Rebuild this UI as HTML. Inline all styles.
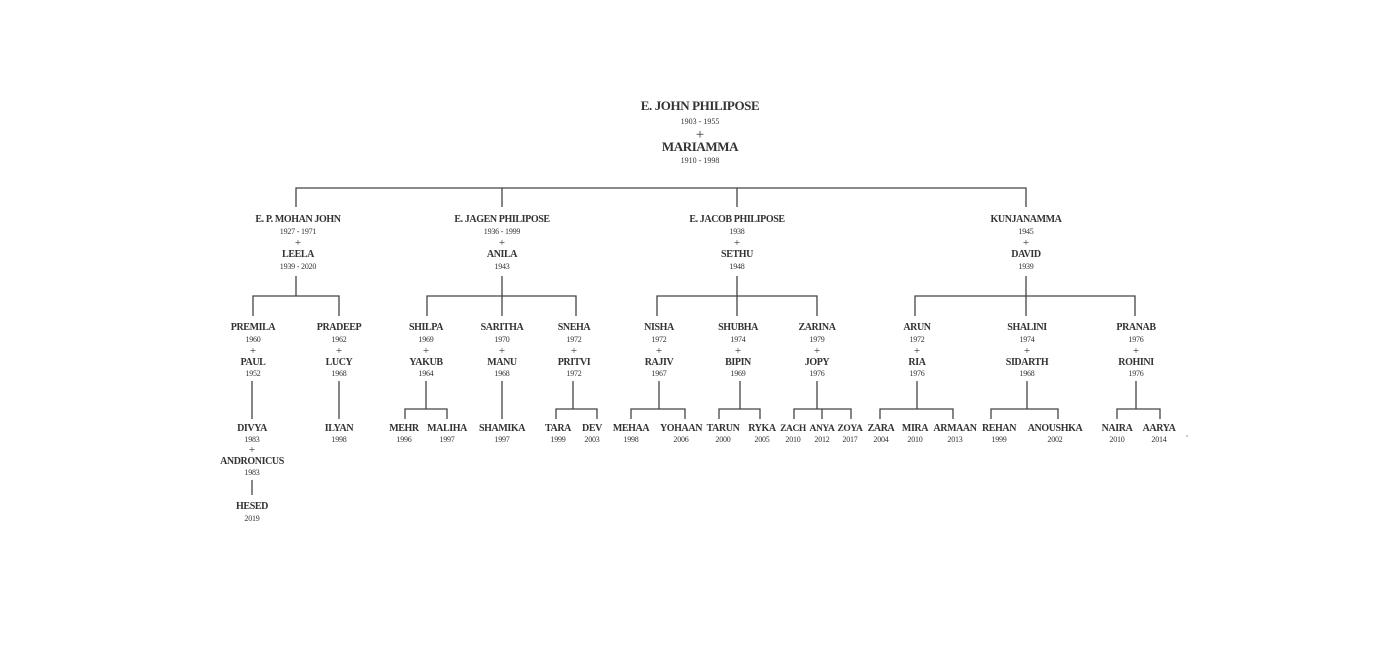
<!DOCTYPE html>
<html><head><meta charset="utf-8"><style>
html,body{margin:0;padding:0;background:#fff;}
svg text{font-family:"Liberation Serif","DejaVu Serif",serif;fill:#333;text-anchor:middle;}
.n{font-size:10px;font-weight:bold;letter-spacing:-0.4px;}
.y{font-size:8px;letter-spacing:-0.2px;}
.p{font-size:11px;}
.t{font-size:13px;font-weight:bold;letter-spacing:-0.4px;}
.ty{font-size:8px;}
</style></head><body>
<svg width="1400" height="652" viewBox="0 0 1400 652" xmlns="http://www.w3.org/2000/svg">
<g stroke="#444" stroke-width="1.3" fill="none">
<path d="M296 207V188H1026V207M502 188V207M737 188V207"/>
<path d="M296 276V296M253 316V296H339V316"/>
<path d="M502 276V316M427 316V296H576V316"/>
<path d="M737 276V316M657 316V296H817V316"/>
<path d="M1026 276V316M915 316V296H1135V316"/>
<path d="M252 381V419M339 381V419"/>
<path d="M426 381V409M405 419V409H447V419"/>
<path d="M502 381V419"/>
<path d="M573 381V409M556 419V409H597V419"/>
<path d="M659 381V409M631 419V409H685V419"/>
<path d="M740 381V409M719 419V409H760V419"/>
<path d="M817 381V409M794 419V409H851V419M822 409V419"/>
<path d="M917 381V409M880 419V409H953V419"/>
<path d="M1027 381V409M991 419V409H1058V419"/>
<path d="M1136 381V409M1117 419V409H1160V419"/>
<path d="M252 480V495"/>
<path d="M1187 435V437" stroke="#999" stroke-width="1"/>
</g>
<text class="t" x="700" y="110">E. JOHN PHILIPOSE</text>
<text class="ty" x="700" y="124">1903 - 1955</text>
<text x="700" y="139" style="font-size:15px">+</text>
<text class="t" x="700" y="151">MARIAMMA</text>
<text class="ty" x="700" y="163">1910 - 1998</text>

<g>
<text class="n" x="298" y="222">E. P. MOHAN JOHN</text><text class="y" x="298" y="234">1927 - 1971</text><text class="p" x="298" y="246">+</text><text class="n" x="298" y="257">LEELA</text><text class="y" x="298" y="269">1939 - 2020</text>
<text class="n" x="502" y="222">E. JAGEN PHILIPOSE</text><text class="y" x="502" y="234">1936 - 1999</text><text class="p" x="502" y="246">+</text><text class="n" x="502" y="257">ANILA</text><text class="y" x="502" y="269">1943</text>
<text class="n" x="737" y="222">E. JACOB PHILIPOSE</text><text class="y" x="737" y="234">1938</text><text class="p" x="737" y="246">+</text><text class="n" x="737" y="257">SETHU</text><text class="y" x="737" y="269">1948</text>
<text class="n" x="1026" y="222">KUNJANAMMA</text><text class="y" x="1026" y="234">1945</text><text class="p" x="1026" y="246">+</text><text class="n" x="1026" y="257">DAVID</text><text class="y" x="1026" y="269">1939</text>
</g>

<g>
<text class="n" x="253" y="330">PREMILA</text><text class="y" x="253" y="342">1960</text><text class="p" x="253" y="354">+</text><text class="n" x="253" y="365">PAUL</text><text class="y" x="253" y="376">1952</text>
<text class="n" x="339" y="330">PRADEEP</text><text class="y" x="339" y="342">1962</text><text class="p" x="339" y="354">+</text><text class="n" x="339" y="365">LUCY</text><text class="y" x="339" y="376">1968</text>
<text class="n" x="426" y="330">SHILPA</text><text class="y" x="426" y="342">1969</text><text class="p" x="426" y="354">+</text><text class="n" x="426" y="365">YAKUB</text><text class="y" x="426" y="376">1964</text>
<text class="n" x="502" y="330">SARITHA</text><text class="y" x="502" y="342">1970</text><text class="p" x="502" y="354">+</text><text class="n" x="502" y="365">MANU</text><text class="y" x="502" y="376">1968</text>
<text class="n" x="574" y="330">SNEHA</text><text class="y" x="574" y="342">1972</text><text class="p" x="574" y="354">+</text><text class="n" x="574" y="365">PRITVI</text><text class="y" x="574" y="376">1972</text>
<text class="n" x="659" y="330">NISHA</text><text class="y" x="659" y="342">1972</text><text class="p" x="659" y="354">+</text><text class="n" x="659" y="365">RAJIV</text><text class="y" x="659" y="376">1967</text>
<text class="n" x="738" y="330">SHUBHA</text><text class="y" x="738" y="342">1974</text><text class="p" x="738" y="354">+</text><text class="n" x="738" y="365">BIPIN</text><text class="y" x="738" y="376">1969</text>
<text class="n" x="817" y="330">ZARINA</text><text class="y" x="817" y="342">1979</text><text class="p" x="817" y="354">+</text><text class="n" x="817" y="365">JOPY</text><text class="y" x="817" y="376">1976</text>
<text class="n" x="917" y="330">ARUN</text><text class="y" x="917" y="342">1972</text><text class="p" x="917" y="354">+</text><text class="n" x="917" y="365">RIA</text><text class="y" x="917" y="376">1976</text>
<text class="n" x="1027" y="330">SHALINI</text><text class="y" x="1027" y="342">1974</text><text class="p" x="1027" y="354">+</text><text class="n" x="1027" y="365">SIDARTH</text><text class="y" x="1027" y="376">1968</text>
<text class="n" x="1136" y="330">PRANAB</text><text class="y" x="1136" y="342">1976</text><text class="p" x="1136" y="354">+</text><text class="n" x="1136" y="365">ROHINI</text><text class="y" x="1136" y="376">1976</text>
</g>

<g>
<text class="n" x="252" y="431">DIVYA</text><text class="y" x="252" y="442">1983</text><text class="p" x="252" y="453">+</text><text class="n" x="252" y="464">ANDRONICUS</text><text class="y" x="252" y="475">1983</text>
<text class="n" x="252" y="509">HESED</text><text class="y" x="252" y="521">2019</text>
<text class="n" x="339" y="431">ILYAN</text><text class="y" x="339" y="442">1998</text>
<text class="n" x="404" y="431">MEHR</text><text class="y" x="404" y="442">1996</text>
<text class="n" x="447" y="431">MALIHA</text><text class="y" x="447" y="442">1997</text>
<text class="n" x="502" y="431">SHAMIKA</text><text class="y" x="502" y="442">1997</text>
<text class="n" x="558" y="431">TARA</text><text class="y" x="558" y="442">1999</text>
<text class="n" x="592" y="431">DEV</text><text class="y" x="592" y="442">2003</text>
<text class="n" x="631" y="431">MEHAA</text><text class="y" x="631" y="442">1998</text>
<text class="n" x="681" y="431">YOHAAN</text><text class="y" x="681" y="442">2006</text>
<text class="n" x="723" y="431">TARUN</text><text class="y" x="723" y="442">2000</text>
<text class="n" x="762" y="431">RYKA</text><text class="y" x="762" y="442">2005</text>
<text class="n" x="793" y="431" style="font-size:9.5px">ZACH</text><text class="y" x="793" y="442">2010</text>
<text class="n" x="822" y="431" style="font-size:9.5px">ANYA</text><text class="y" x="822" y="442">2012</text>
<text class="n" x="850" y="431" style="font-size:9.5px">ZOYA</text><text class="y" x="850" y="442">2017</text>
<text class="n" x="881" y="431">ZARA</text><text class="y" x="881" y="442">2004</text>
<text class="n" x="915" y="431">MIRA</text><text class="y" x="915" y="442">2010</text>
<text class="n" x="955" y="431">ARMAAN</text><text class="y" x="955" y="442">2013</text>
<text class="n" x="999" y="431">REHAN</text><text class="y" x="999" y="442">1999</text>
<text class="n" x="1055" y="431">ANOUSHKA</text><text class="y" x="1055" y="442">2002</text>
<text class="n" x="1117" y="431">NAIRA</text><text class="y" x="1117" y="442">2010</text>
<text class="n" x="1159" y="431">AARYA</text><text class="y" x="1159" y="442">2014</text>
</g>
</svg>
</body></html>
